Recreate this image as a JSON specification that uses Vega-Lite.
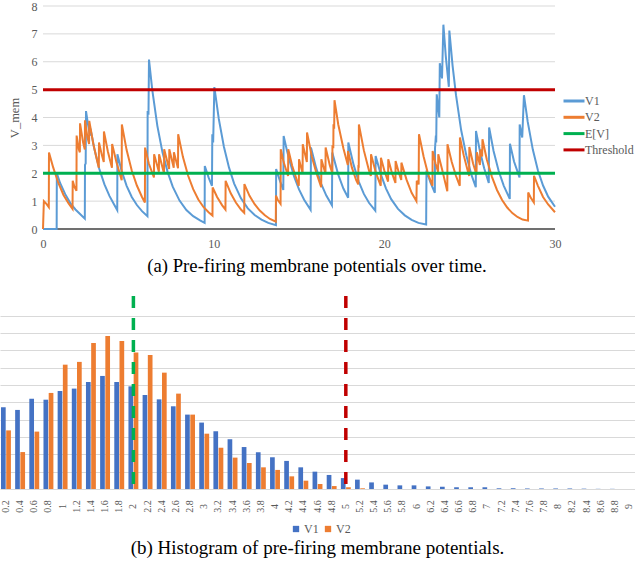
{
  "$schema": "https://vega.github.io/schema/vega-lite/v6.json",
  "padding": 0,
  "background": "white",
  "config": {
    "view": {"stroke": null},
    "font": "Liberation Serif",
    "axis": {"labelFont": "Liberation Serif", "titleFont": "Liberation Serif", "labelColor": "#595959", "titleColor": "#595959", "gridColor": "#D9D9D9", "gridWidth": 1},
    "legend": {"labelFont": "Liberation Serif", "labelColor": "#595959"},
    "title": {"font": "Liberation Serif", "fontWeight": "normal", "color": "#000000"}
  },
  "columns": 1,
  "spacing": 18,
  "resolve": {"scale": {"color": "independent"}, "legend": {"color": "independent"}},
  "datasets": {
    "grid": [{"g": 1}, {"g": 2}, {"g": 3}, {"g": 4}, {"g": 5}, {"g": 6}, {"g": 7}, {"g": 8}],
    "lines": [
      {"s":"V1","t":0,"v":0},{"s":"V1","t":0.8,"v":0},{"s":"V1","t":0.81,"v":2.0},{"s":"V1","t":1.0,"v":1.65},{"s":"V1","t":1.3,"v":1.25},{"s":"V1","t":1.6,"v":0.93},{"s":"V1","t":1.9,"v":0.7},{"s":"V1","t":2.2,"v":0.52},{"s":"V1","t":2.45,"v":0.37},{"s":"V1","t":2.46,"v":2.3},{"s":"V1","t":2.5,"v":2.35},{"s":"V1","t":2.52,"v":4.23},{"s":"V1","t":2.65,"v":3.7},{"s":"V1","t":2.75,"v":3.35},{"s":"V1","t":2.78,"v":3.6},{"s":"V1","t":3.0,"v":2.9},{"s":"V1","t":3.3,"v":2.15},{"s":"V1","t":3.6,"v":1.6},{"s":"V1","t":3.9,"v":1.18},{"s":"V1","t":4.15,"v":0.9},{"s":"V1","t":4.35,"v":0.68},{"s":"V1","t":4.36,"v":2.68},{"s":"V1","t":4.6,"v":2.1},{"s":"V1","t":4.9,"v":1.55},{"s":"V1","t":5.2,"v":1.15},{"s":"V1","t":5.5,"v":0.86},{"s":"V1","t":5.8,"v":0.64},{"s":"V1","t":6.12,"v":0.46},{"s":"V1","t":6.13,"v":4.23},{"s":"V1","t":6.18,"v":4.1},{"s":"V1","t":6.21,"v":6.08},{"s":"V1","t":6.4,"v":5.0},{"s":"V1","t":6.7,"v":3.7},{"s":"V1","t":7.0,"v":2.75},{"s":"V1","t":7.3,"v":2.05},{"s":"V1","t":7.6,"v":1.52},{"s":"V1","t":8.0,"v":1.02},{"s":"V1","t":8.4,"v":0.68},{"s":"V1","t":8.8,"v":0.46},{"s":"V1","t":9.2,"v":0.31},{"s":"V1","t":9.47,"v":0.22},{"s":"V1","t":9.48,"v":2.26},{"s":"V1","t":9.7,"v":1.85},{"s":"V1","t":9.9,"v":1.55},{"s":"V1","t":9.92,"v":3.4},{"s":"V1","t":9.97,"v":3.1},{"s":"V1","t":10.04,"v":5.09},{"s":"V1","t":10.3,"v":3.95},{"s":"V1","t":10.6,"v":2.95},{"s":"V1","t":10.9,"v":2.2},{"s":"V1","t":11.2,"v":1.63},{"s":"V1","t":11.6,"v":1.1},{"s":"V1","t":12.0,"v":0.74},{"s":"V1","t":12.4,"v":0.5},{"s":"V1","t":12.8,"v":0.34},{"s":"V1","t":13.2,"v":0.22},{"s":"V1","t":13.65,"v":0.14},{"s":"V1","t":13.66,"v":2.15},{"s":"V1","t":13.9,"v":1.7},{"s":"V1","t":14.08,"v":1.4},{"s":"V1","t":14.1,"v":3.34},{"s":"V1","t":14.3,"v":2.8},{"s":"V1","t":14.45,"v":2.45},{"s":"V1","t":14.7,"v":1.9},{"s":"V1","t":15.0,"v":1.42},{"s":"V1","t":15.3,"v":1.05},{"s":"V1","t":15.68,"v":0.69},{"s":"V1","t":15.7,"v":2.92},{"s":"V1","t":16.0,"v":2.2},{"s":"V1","t":16.3,"v":1.62},{"s":"V1","t":16.6,"v":1.2},{"s":"V1","t":16.93,"v":0.85},{"s":"V1","t":16.95,"v":2.74},{"s":"V1","t":17.3,"v":1.95},{"s":"V1","t":17.6,"v":1.45},{"s":"V1","t":17.88,"v":1.12},{"s":"V1","t":17.89,"v":3.1},{"s":"V1","t":18.2,"v":2.3},{"s":"V1","t":18.5,"v":1.7},{"s":"V1","t":18.8,"v":1.26},{"s":"V1","t":19.1,"v":0.94},{"s":"V1","t":19.47,"v":0.66},{"s":"V1","t":19.49,"v":2.62},{"s":"V1","t":19.8,"v":1.95},{"s":"V1","t":20.1,"v":1.45},{"s":"V1","t":20.4,"v":1.07},{"s":"V1","t":20.8,"v":0.72},{"s":"V1","t":21.2,"v":0.49},{"s":"V1","t":21.6,"v":0.33},{"s":"V1","t":22.0,"v":0.22},{"s":"V1","t":22.45,"v":0.16},{"s":"V1","t":22.47,"v":2.1},{"s":"V1","t":22.7,"v":1.67},{"s":"V1","t":22.96,"v":1.3},{"s":"V1","t":22.97,"v":2.9},{"s":"V1","t":23.02,"v":3.35},{"s":"V1","t":23.04,"v":3.1},{"s":"V1","t":23.07,"v":4.83},{"s":"V1","t":23.2,"v":4.1},{"s":"V1","t":23.22,"v":4.0},{"s":"V1","t":23.25,"v":5.95},{"s":"V1","t":23.38,"v":5.4},{"s":"V1","t":23.46,"v":7.33},{"s":"V1","t":23.6,"v":6.2},{"s":"V1","t":23.78,"v":5.1},{"s":"V1","t":23.81,"v":7.12},{"s":"V1","t":24.0,"v":5.85},{"s":"V1","t":24.2,"v":4.8},{"s":"V1","t":24.5,"v":3.55},{"s":"V1","t":24.8,"v":2.65},{"s":"V1","t":25.1,"v":1.95},{"s":"V1","t":25.36,"v":1.5},{"s":"V1","t":25.37,"v":3.52},{"s":"V1","t":25.6,"v":2.8},{"s":"V1","t":25.85,"v":2.18},{"s":"V1","t":26.12,"v":1.65},{"s":"V1","t":26.14,"v":3.64},{"s":"V1","t":26.4,"v":2.8},{"s":"V1","t":26.7,"v":2.08},{"s":"V1","t":27.0,"v":1.55},{"s":"V1","t":27.35,"v":1.08},{"s":"V1","t":27.36,"v":3.06},{"s":"V1","t":27.6,"v":2.42},{"s":"V1","t":27.92,"v":1.85},{"s":"V1","t":27.93,"v":3.75},{"s":"V1","t":28.08,"v":3.28},{"s":"V1","t":28.18,"v":4.8},{"s":"V1","t":28.4,"v":3.85},{"s":"V1","t":28.7,"v":2.85},{"s":"V1","t":29.0,"v":2.1},{"s":"V1","t":29.3,"v":1.56},{"s":"V1","t":29.6,"v":1.16},{"s":"V1","t":30.0,"v":0.8},
      {"s":"V2","t":0,"v":0},{"s":"V2","t":0.05,"v":1.0},{"s":"V2","t":0.2,"v":0.9},{"s":"V2","t":0.34,"v":0.78},{"s":"V2","t":0.35,"v":2.74},{"s":"V2","t":0.6,"v":2.2},{"s":"V2","t":0.9,"v":1.65},{"s":"V2","t":1.2,"v":1.22},{"s":"V2","t":1.5,"v":0.92},{"s":"V2","t":1.73,"v":0.72},{"s":"V2","t":1.74,"v":1.73},{"s":"V2","t":1.85,"v":1.5},{"s":"V2","t":1.96,"v":1.37},{"s":"V2","t":1.97,"v":3.35},{"s":"V2","t":2.1,"v":2.85},{"s":"V2","t":2.16,"v":2.75},{"s":"V2","t":2.17,"v":3.79},{"s":"V2","t":2.35,"v":3.1},{"s":"V2","t":2.45,"v":2.85},{"s":"V2","t":2.46,"v":3.9},{"s":"V2","t":2.6,"v":3.3},{"s":"V2","t":2.7,"v":3.05},{"s":"V2","t":2.71,"v":3.88},{"s":"V2","t":2.95,"v":3.05},{"s":"V2","t":3.15,"v":2.5},{"s":"V2","t":3.27,"v":2.2},{"s":"V2","t":3.28,"v":3.1},{"s":"V2","t":3.45,"v":2.65},{"s":"V2","t":3.56,"v":2.4},{"s":"V2","t":3.57,"v":3.5},{"s":"V2","t":3.8,"v":2.78},{"s":"V2","t":4.04,"v":2.2},{"s":"V2","t":4.05,"v":3.05},{"s":"V2","t":4.3,"v":2.4},{"s":"V2","t":4.61,"v":1.75},{"s":"V2","t":4.62,"v":3.75},{"s":"V2","t":4.9,"v":2.83},{"s":"V2","t":5.2,"v":2.1},{"s":"V2","t":5.5,"v":1.56},{"s":"V2","t":5.8,"v":1.15},{"s":"V2","t":5.97,"v":0.95},{"s":"V2","t":5.98,"v":2.92},{"s":"V2","t":6.2,"v":2.35},{"s":"V2","t":6.5,"v":1.85},{"s":"V2","t":6.51,"v":2.68},{"s":"V2","t":6.79,"v":2.05},{"s":"V2","t":6.8,"v":2.68},{"s":"V2","t":7.09,"v":2.0},{"s":"V2","t":7.1,"v":2.86},{"s":"V2","t":7.39,"v":2.15},{"s":"V2","t":7.4,"v":2.86},{"s":"V2","t":7.66,"v":2.2},{"s":"V2","t":7.67,"v":2.75},{"s":"V2","t":7.91,"v":2.18},{"s":"V2","t":7.92,"v":3.4},{"s":"V2","t":8.2,"v":2.58},{"s":"V2","t":8.5,"v":1.92},{"s":"V2","t":8.8,"v":1.43},{"s":"V2","t":9.1,"v":1.06},{"s":"V2","t":9.4,"v":0.79},{"s":"V2","t":9.7,"v":0.6},{"s":"V2","t":9.93,"v":0.48},{"s":"V2","t":9.94,"v":1.49},{"s":"V2","t":10.2,"v":1.15},{"s":"V2","t":10.5,"v":0.85},{"s":"V2","t":10.69,"v":0.7},{"s":"V2","t":10.7,"v":1.73},{"s":"V2","t":11.0,"v":1.28},{"s":"V2","t":11.3,"v":0.95},{"s":"V2","t":11.6,"v":0.7},{"s":"V2","t":11.79,"v":0.58},{"s":"V2","t":11.8,"v":1.61},{"s":"V2","t":12.1,"v":1.19},{"s":"V2","t":12.4,"v":0.89},{"s":"V2","t":12.7,"v":0.66},{"s":"V2","t":13.0,"v":0.49},{"s":"V2","t":13.3,"v":0.36},{"s":"V2","t":13.64,"v":0.26},{"s":"V2","t":13.65,"v":1.2},{"s":"V2","t":13.75,"v":1.05},{"s":"V2","t":13.92,"v":0.9},{"s":"V2","t":13.93,"v":2.86},{"s":"V2","t":14.1,"v":2.4},{"s":"V2","t":14.36,"v":1.9},{"s":"V2","t":14.37,"v":2.86},{"s":"V2","t":14.6,"v":2.27},{"s":"V2","t":14.9,"v":1.7},{"s":"V2","t":14.99,"v":1.55},{"s":"V2","t":15.0,"v":2.5},{"s":"V2","t":15.21,"v":2.0},{"s":"V2","t":15.22,"v":3.04},{"s":"V2","t":15.46,"v":2.4},{"s":"V2","t":15.47,"v":3.46},{"s":"V2","t":15.75,"v":2.6},{"s":"V2","t":16.0,"v":2.05},{"s":"V2","t":16.3,"v":1.5},{"s":"V2","t":16.31,"v":2.5},{"s":"V2","t":16.55,"v":1.98},{"s":"V2","t":16.56,"v":2.92},{"s":"V2","t":16.8,"v":2.3},{"s":"V2","t":16.95,"v":2.0},{"s":"V2","t":16.96,"v":3.0},{"s":"V2","t":17.01,"v":2.9},{"s":"V2","t":17.02,"v":3.76},{"s":"V2","t":17.06,"v":3.6},{"s":"V2","t":17.08,"v":4.62},{"s":"V2","t":17.3,"v":3.75},{"s":"V2","t":17.6,"v":2.9},{"s":"V2","t":17.86,"v":2.3},{"s":"V2","t":17.87,"v":2.8},{"s":"V2","t":18.1,"v":2.2},{"s":"V2","t":18.35,"v":1.75},{"s":"V2","t":18.47,"v":1.6},{"s":"V2","t":18.48,"v":2.3},{"s":"V2","t":18.5,"v":2.2},{"s":"V2","t":18.51,"v":3.75},{"s":"V2","t":18.8,"v":2.82},{"s":"V2","t":19.1,"v":2.1},{"s":"V2","t":19.21,"v":1.9},{"s":"V2","t":19.22,"v":2.68},{"s":"V2","t":19.5,"v":2.03},{"s":"V2","t":19.79,"v":1.55},{"s":"V2","t":19.8,"v":2.56},{"s":"V2","t":20.0,"v":2.1},{"s":"V2","t":20.22,"v":1.7},{"s":"V2","t":20.23,"v":2.5},{"s":"V2","t":20.45,"v":2.0},{"s":"V2","t":20.65,"v":1.65},{"s":"V2","t":20.66,"v":2.44},{"s":"V2","t":20.85,"v":2.02},{"s":"V2","t":20.99,"v":1.76},{"s":"V2","t":21.0,"v":2.38},{"s":"V2","t":21.3,"v":1.77},{"s":"V2","t":21.6,"v":1.3},{"s":"V2","t":21.88,"v":1.0},{"s":"V2","t":21.9,"v":1.73},{"s":"V2","t":22.01,"v":1.6},{"s":"V2","t":22.03,"v":3.4},{"s":"V2","t":22.3,"v":2.6},{"s":"V2","t":22.55,"v":2.0},{"s":"V2","t":22.82,"v":1.55},{"s":"V2","t":22.83,"v":2.8},{"s":"V2","t":23.0,"v":2.35},{"s":"V2","t":23.15,"v":2.05},{"s":"V2","t":23.16,"v":2.68},{"s":"V2","t":23.4,"v":2.1},{"s":"V2","t":23.69,"v":1.35},{"s":"V2","t":23.7,"v":3.04},{"s":"V2","t":23.95,"v":2.4},{"s":"V2","t":24.2,"v":1.9},{"s":"V2","t":24.42,"v":1.55},{"s":"V2","t":24.43,"v":3.28},{"s":"V2","t":24.65,"v":2.65},{"s":"V2","t":24.9,"v":2.05},{"s":"V2","t":24.97,"v":1.9},{"s":"V2","t":24.98,"v":2.94},{"s":"V2","t":25.2,"v":2.35},{"s":"V2","t":25.4,"v":1.95},{"s":"V2","t":25.42,"v":2.75},{"s":"V2","t":25.6,"v":2.3},{"s":"V2","t":25.62,"v":2.85},{"s":"V2","t":25.73,"v":2.6},{"s":"V2","t":25.75,"v":3.22},{"s":"V2","t":26.0,"v":2.5},{"s":"V2","t":26.3,"v":1.88},{"s":"V2","t":26.6,"v":1.4},{"s":"V2","t":26.9,"v":1.04},{"s":"V2","t":27.2,"v":0.77},{"s":"V2","t":27.5,"v":0.57},{"s":"V2","t":27.8,"v":0.43},{"s":"V2","t":28.1,"v":0.34},{"s":"V2","t":28.42,"v":0.3},{"s":"V2","t":28.43,"v":1.31},{"s":"V2","t":28.6,"v":1.1},{"s":"V2","t":28.76,"v":0.95},{"s":"V2","t":28.77,"v":1.91},{"s":"V2","t":29.0,"v":1.55},{"s":"V2","t":29.3,"v":1.15},{"s":"V2","t":29.6,"v":0.88},{"s":"V2","t":30.0,"v":0.6}
    ],
    "hist": [
      {"b":"0.2","s":"V1","n":471},{"b":"0.2","s":"V2","n":338},
      {"b":"0.4","s":"V1","n":456},{"b":"0.4","s":"V2","n":213},
      {"b":"0.6","s":"V1","n":521},{"b":"0.6","s":"V2","n":331},
      {"b":"0.8","s":"V1","n":515},{"b":"0.8","s":"V2","n":554},
      {"b":"1","s":"V1","n":565},{"b":"1","s":"V2","n":717},
      {"b":"1.2","s":"V1","n":579},{"b":"1.2","s":"V2","n":733},
      {"b":"1.4","s":"V1","n":617},{"b":"1.4","s":"V2","n":842},
      {"b":"1.6","s":"V1","n":652},{"b":"1.6","s":"V2","n":883},
      {"b":"1.8","s":"V1","n":617},{"b":"1.8","s":"V2","n":854},
      {"b":"2","s":"V1","n":592},{"b":"2","s":"V2","n":787},
      {"b":"2.2","s":"V1","n":542},{"b":"2.2","s":"V2","n":773},
      {"b":"2.4","s":"V1","n":517},{"b":"2.4","s":"V2","n":671},
      {"b":"2.6","s":"V1","n":477},{"b":"2.6","s":"V2","n":550},
      {"b":"2.8","s":"V1","n":429},{"b":"2.8","s":"V2","n":429},
      {"b":"3","s":"V1","n":383},{"b":"3","s":"V2","n":319},
      {"b":"3.2","s":"V1","n":333},{"b":"3.2","s":"V2","n":238},
      {"b":"3.4","s":"V1","n":287},{"b":"3.4","s":"V2","n":181},
      {"b":"3.6","s":"V1","n":242},{"b":"3.6","s":"V2","n":150},
      {"b":"3.8","s":"V1","n":212},{"b":"3.8","s":"V2","n":125},
      {"b":"4","s":"V1","n":183},{"b":"4","s":"V2","n":110},
      {"b":"4.2","s":"V1","n":162},{"b":"4.2","s":"V2","n":73},
      {"b":"4.4","s":"V1","n":125},{"b":"4.4","s":"V2","n":48},
      {"b":"4.6","s":"V1","n":100},{"b":"4.6","s":"V2","n":29},
      {"b":"4.8","s":"V1","n":81},{"b":"4.8","s":"V2","n":17},
      {"b":"5","s":"V1","n":63},{"b":"5","s":"V2","n":10},
      {"b":"5.2","s":"V1","n":54},{"b":"5.2","s":"V2","n":4},
      {"b":"5.4","s":"V1","n":38},{"b":"5.4","s":"V2","n":0},
      {"b":"5.6","s":"V1","n":25},{"b":"5.6","s":"V2","n":0},
      {"b":"5.8","s":"V1","n":21},{"b":"5.8","s":"V2","n":0},
      {"b":"6","s":"V1","n":21},{"b":"6","s":"V2","n":0},
      {"b":"6.2","s":"V1","n":15},{"b":"6.2","s":"V2","n":0},
      {"b":"6.4","s":"V1","n":13},{"b":"6.4","s":"V2","n":0},
      {"b":"6.6","s":"V1","n":10},{"b":"6.6","s":"V2","n":0},
      {"b":"6.8","s":"V1","n":10},{"b":"6.8","s":"V2","n":0},
      {"b":"7","s":"V1","n":10},{"b":"7","s":"V2","n":0},
      {"b":"7.2","s":"V1","n":4},{"b":"7.2","s":"V2","n":0},
      {"b":"7.4","s":"V1","n":4},{"b":"7.4","s":"V2","n":0},
      {"b":"7.6","s":"V1","n":3},{"b":"7.6","s":"V2","n":0},
      {"b":"7.8","s":"V1","n":3},{"b":"7.8","s":"V2","n":0},
      {"b":"8","s":"V1","n":3},{"b":"8","s":"V2","n":0},
      {"b":"8.2","s":"V1","n":3},{"b":"8.2","s":"V2","n":0},
      {"b":"8.4","s":"V1","n":2},{"b":"8.4","s":"V2","n":0},
      {"b":"8.6","s":"V1","n":1},{"b":"8.6","s":"V2","n":0},
      {"b":"8.8","s":"V1","n":1},{"b":"8.8","s":"V2","n":0},
      {"b":"9","s":"V1","n":0},{"b":"9","s":"V2","n":0}
    ]
  },
  "concat": [
    {
      "width": 555,
      "height": 223,
      "title": {"text": "(a) Pre-firing membrane potentials over time.", "orient": "bottom", "frame": "bounds", "anchor": "middle", "fontSize": 18.7, "offset": 8},
      "layer": [
        {
          "data": {"name": "grid"},
          "mark": {"type": "rule", "color": "#D9D9D9", "strokeWidth": 1},
          "encoding": {
            "y": {"field": "g", "type": "quantitative", "scale": {"domain": [0, 8], "nice": false},
                  "axis": {"values": [0, 1, 2, 3, 4, 5, 6, 7, 8], "tickCount": 20, "format": "d", "offset": -43, "grid": false, "labelOverlap": false, "title": "V_mem", "titleFont": "Liberation Serif", "labelFont": "Liberation Serif", "titleFontSize": 12.5, "titleFontWeight": "normal", "titlePadding": 10, "labelFontSize": 12, "labelPadding": 6, "domain": false, "ticks": false}},
            "x": {"datum": 0, "scale": {"domain": [-2.52, 30], "nice": false, "zero": false},
                  "axis": {"values": [0, 10, 20, 30], "tickCount": 20, "format": "d", "title": null, "grid": false, "ticks": false, "domain": false, "labelFont": "Liberation Serif", "labelFontSize": 12, "labelPadding": 9, "labelFlush": false}},
            "x2": {"datum": 30}
          }
        },
        {
          "data": {"values": [{"g": 0}]},
          "mark": {"type": "rule", "color": "#404040", "strokeWidth": 1.3},
          "encoding": {
            "y": {"field": "g", "type": "quantitative"},
            "x": {"datum": 0},
            "x2": {"datum": 30}
          }
        },
        {
          "data": {"name": "lines"},
          "mark": {"type": "line", "strokeWidth": 2},
          "encoding": {
            "x": {"field": "t", "type": "quantitative"},
            "y": {"field": "v", "type": "quantitative"},
            "color": {"field": "s", "type": "nominal",
                      "scale": {"domain": ["V1", "V2", "E[V]", "Threshold"], "range": ["#5B9BD5", "#ED7D31", "#00B050", "#C00000"]},
                      "legend": {"title": null, "orient": "none", "legendX": 565, "legendY": 86, "symbolType": "M-1.4,0H1.4", "symbolStrokeWidth": 3, "symbolSize": 225, "labelFont": "Liberation Serif", "labelFontSize": 12, "labelOffset": 2, "rowPadding": 1.3}}
          }
        },
        {
          "data": {"values": [{"s": "E[V]", "v": 2}, {"s": "Threshold", "v": 5}]},
          "mark": {"type": "rule", "strokeWidth": 3},
          "encoding": {
            "y": {"field": "v", "type": "quantitative"},
            "x": {"datum": 0},
            "x2": {"datum": 30},
            "color": {"field": "s", "type": "nominal"}
          }
        }
      ]
    },
    {
      "width": 635,
      "height": 193,
      "title": {"text": "(b) Histogram of pre-firing membrane potentials.", "orient": "bottom", "frame": "bounds", "anchor": "middle", "fontSize": 19, "offset": 4},
      "layer": [
        {
          "data": {"name": "hist"},
          "mark": {"type": "bar"},
          "encoding": {
            "x": {"field": "b", "type": "nominal", "sort": null,
                  "scale": {"domain": ["0.2","0.4","0.6","0.8","1","1.2","1.4","1.6","1.8","2","2.2","2.4","2.6","2.8","3","3.2","3.4","3.6","3.8","4","4.2","4.4","4.6","4.8","5","5.2","5.4","5.6","5.8","6","6.2","6.4","6.6","6.8","7","7.2","7.4","7.6","7.8","8","8.2","8.4","8.6","8.8","9"], "paddingInner": 0.3, "paddingOuter": 0.07},
                  "axis": {"title": null, "labelAngle": -90, "labelAlign": "center", "labelBaseline": "middle", "labelPadding": 17, "ticks": false, "domain": false, "labelFont": "Liberation Serif", "labelFontSize": 10}},
            "xOffset": {"field": "s", "type": "nominal", "scale": {"domain": ["V1", "V2"], "paddingInner": 0.1}},
            "y": {"field": "n", "type": "quantitative", "scale": {"domain": [0, 1113], "nice": false},
                  "axis": {"values": [0, 100, 200, 300, 400, 500, 600, 700, 800, 900, 1000], "tickCount": 20, "labels": false, "ticks": false, "domain": false, "title": null}},
            "color": {"field": "s", "type": "nominal",
                      "scale": {"domain": ["V1", "V2"], "range": ["#4472C4", "#ED7D31"]},
                      "legend": {"title": null, "orient": "none", "direction": "horizontal", "legendX": 290, "legendY": 227, "symbolType": "square", "symbolSize": 40, "labelFont": "Liberation Serif", "labelFontSize": 12, "labelOffset": 2, "columnPadding": 3}}
          }
        },
        {
          "data": {"values": [{"b": "2"}]},
          "mark": {"type": "rule", "color": "#00B050", "strokeWidth": 3.5, "strokeDash": [12, 10]},
          "encoding": {"x": {"field": "b", "type": "nominal"}}
        },
        {
          "data": {"values": [{"b": "5"}]},
          "mark": {"type": "rule", "color": "#C00000", "strokeWidth": 3.5, "strokeDash": [12, 10]},
          "encoding": {"x": {"field": "b", "type": "nominal"}}
        }
      ]
    }
  ]
}
